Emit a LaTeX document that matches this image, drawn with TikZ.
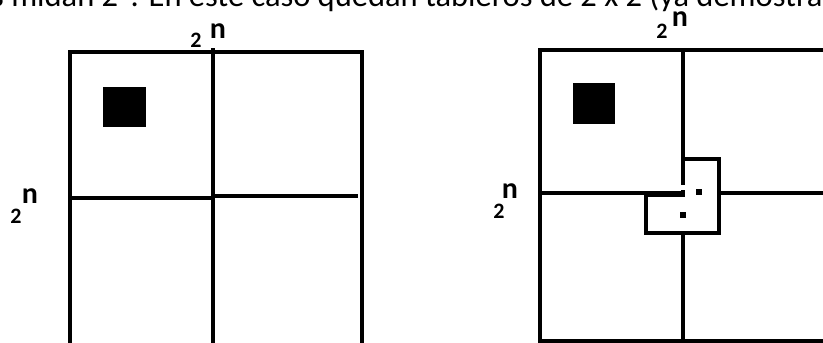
\documentclass[tikz,border=0pt]{standalone}
\usepackage{fontspec}
\setmainfont{Carlito}
\begin{document}
\begin{tikzpicture}[x=1pt,y=-1pt,
    edge/.style={line width=4pt},
    cell/.style={fill=black},
    base/.style={font=\bfseries\fontsize{22}{22}\selectfont,inner sep=0pt},
    expo/.style={font=\bfseries\fontsize{30}{30}\selectfont,inner sep=0pt}
  ]
  \useasboundingbox (0,0) rectangle (823,343);
  \clip (0,0) rectangle (823,343);
  % linea de texto cortada arriba
  \node[anchor=base west,inner sep=0pt,font=\fontsize{32.5}{33}\selectfont] (txt) at (-9,6)
    {s midan 2\textsuperscript{n}. En este caso quedan tableros de 2 x 2 (ya demostrado};
  % tablero izquierdo
  \draw[edge] (70,52) rectangle (362,360);
  \draw[edge] (213,48) -- (213,360);
  \draw[edge] (70,198) -- (213,198);
  \draw[edge] (213,196) -- (358,196);
  \fill[cell] (103,87) rectangle (146,127);
  \node[base] (l2a) at (196,40) {2};
  \node[expo] (lna) at (218,31) {n};
  \node[base] (l2b) at (16,216) {2};
  \node[expo] (lnb) at (30,196) {n};
  % tablero derecho
  \draw[edge] (540,50) -- (823,50);
  \draw[edge] (540,48) -- (540,341) -- (823,341);
  \draw[edge] (683,48) -- (683,185);
  \draw[edge] (683,233) -- (683,343);
  \draw[edge] (540,193) -- (681,193);
  \draw[edge] (717,193) -- (823,193);
  \fill[cell] (573,83) rectangle (615,124);
  % tromino en el centro
  \draw[edge] (683,159) -- (719,159) -- (719,233) -- (646,233) -- (646,195) -- (683,195) -- (683,190);
  \fill[cell] (696,189) rectangle (702,195);
  \fill[cell] (680,212) rectangle (686,218);
  \node[base] (r2a) at (662,31) {2};
  \node[expo] (rna) at (680,19) {n};
  \node[base] (r2b) at (499,211) {2};
  \node[expo] (rnb) at (510,191) {n};
\end{tikzpicture}
\end{document}
